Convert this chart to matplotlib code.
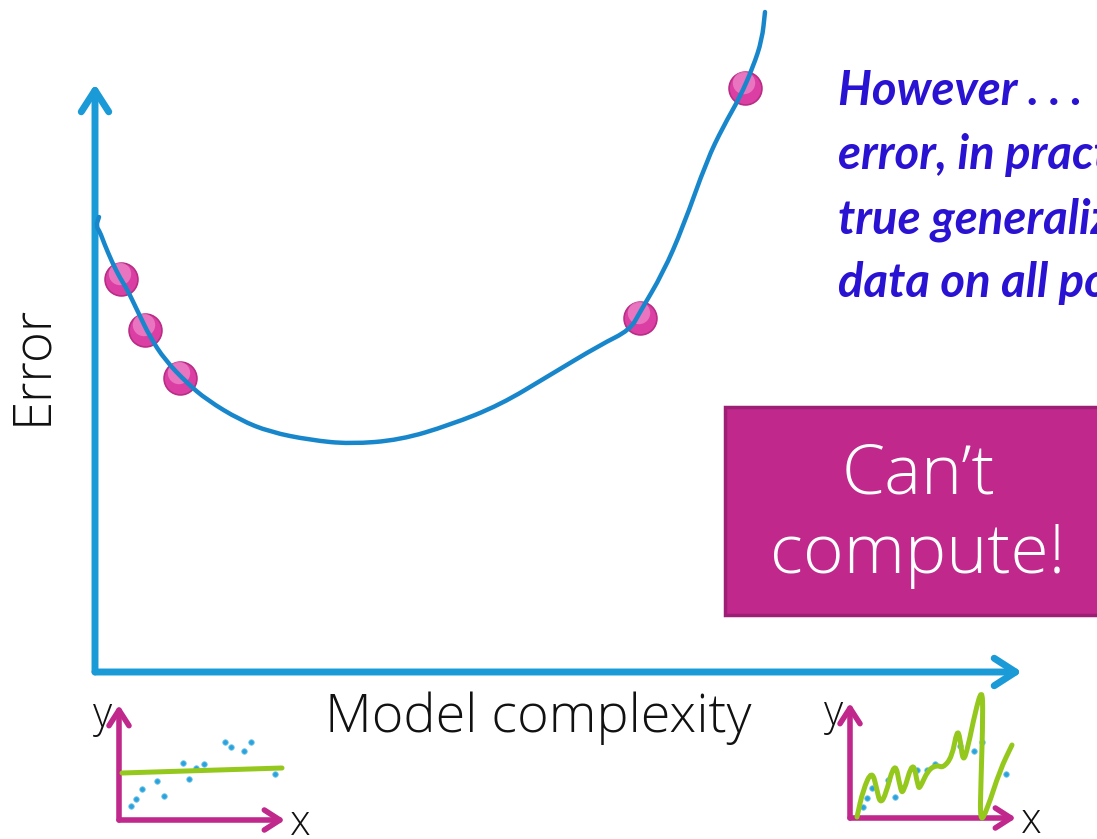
import numpy as np
import matplotlib
matplotlib.use("Agg")
import matplotlib.pyplot as plt
from matplotlib.patches import Rectangle, PathPatch
from matplotlib.path import Path

# main error curve (complexity, error) measured from the axis corner
curve_x = [4, 1, 5, 9, 17, 25, 32, 43, 55, 70, 92, 112, 145, 175, 215, 255, 305,
           355, 405, 455, 505, 535, 545, 568, 588, 612, 628, 645, 658, 667, 670]
curve_y = [455, 446, 440, 429, 410, 394, 383, 360, 335, 312, 289, 272, 252, 240,
           232, 228, 232, 247, 267, 297, 327, 342, 360, 399, 445, 512, 545, 575,
           605, 632, 660]

# sampled error values
dot_x = [26, 50, 85, 545, 650]
dot_y = [393, 342, 294, 354, 584]

# simple model inset
simple_x = [12, 17, 23, 38, 45, 64, 70, 77, 85, 106, 112, 125, 132, 156]
simple_y = [14, 21, 31, 39, 24, 57, 41, 52, 56, 78, 73, 69, 78, 46]
simple_fit_x = [3, 163]
simple_fit_y = [47, 52]

# complex model inset
complex_x = [13, 17, 22, 38, 45, 67, 77, 85, 110, 124, 132, 156]
complex_y = [11, 20, 30, 38, 21, 48, 48, 54, 72, 67, 76, 44]
complex_fit_x = [7, 13, 22, 27, 30, 35, 45, 50, 53, 63, 68, 70, 78, 87, 93, 102,
                 107, 110, 113, 118, 125, 132, 133, 131, 130, 137, 150, 162]
complex_fit_y = [1, 28, 48, 28, 15, 21, 58, 31, 23, 59, 31, 30, 48, 53, 50, 61,
                 88, 81, 55, 71, 105, 130, 105, 38, -5, 8, 48, 73]

note_lines = ["However . . .",
              "error, in practice cannot",
              "true generalization error",
              "data on all possible inputs"]

AXIS_BLUE = "#1a9ad6"
CURVE_BLUE = "#1886cb"
MAGENTA = "#c0288c"
GREEN = "#95c81c"
DOT_BLUE = "#2aa3dc"
NOTE_BLUE = "#2a12d2"
LABEL_FONT = "Open Sans"

W, H = 1097, 839
fig = plt.figure(figsize=(W / 100, H / 100), dpi=100)
fig.patch.set_facecolor("white")

ax = fig.add_axes([0, 0, 1, 1])
ax.set_xlim(-95, W - 95)
ax.set_ylim(672 - H, 672)
ax.axis("off")


def arrow_axes(a, xtip, ytip, color, lw, scale):
    style = "->,head_length=0.7,head_width=0.45"
    for tip in [(xtip, 0), (0, ytip)]:
        a.annotate("", xy=tip, xytext=(0, 0),
                   arrowprops=dict(arrowstyle=style, color=color, lw=lw,
                                   mutation_scale=scale, shrinkA=0, shrinkB=0,
                                   capstyle="round", joinstyle="round"),
                   annotation_clip=False)


def smooth_line(a, xs, ys, color, lw, zorder):
    # quadratic segments between midpoints, so hand-drawn strokes stay round
    pts = np.column_stack([xs, ys]).astype(float)
    mids = (pts[:-1] + pts[1:]) / 2
    verts = [pts[0], mids[0]]
    codes = [Path.MOVETO, Path.LINETO]
    for i in range(1, len(pts) - 1):
        verts += [pts[i], mids[i]]
        codes += [Path.CURVE3, Path.CURVE3]
    verts.append(pts[-1])
    codes.append(Path.LINETO)
    patch = PathPatch(Path(verts, codes), facecolor="none", edgecolor=color,
                      lw=lw, capstyle="round", joinstyle="round",
                      zorder=zorder, clip_on=False)
    a.add_patch(patch)


arrow_axes(ax, 927, 588, AXIS_BLUE, 5, 22)

ax.scatter(dot_x, dot_y, s=560, color="#dc3fa4", edgecolor="#b82d85",
           linewidth=1.2, zorder=3, clip_on=False)
ax.scatter(np.array(dot_x) - 1, np.array(dot_y) + 5, s=260, color="#f191cf",
           edgecolor="none", alpha=0.65, zorder=3, clip_on=False)
smooth_line(ax, curve_x, curve_y, CURVE_BLUE, 3.2, 4)

ax.text(-63, 307, "Error", rotation=90, ha="center", va="center",
        fontsize=38, family=LABEL_FONT, fontweight="light", color="#111111")
ax.text(443, -46, "Model complexity", ha="center", va="center",
        fontsize=39, family=LABEL_FONT, fontweight="light", color="#111111")

# note text runs off the right edge
for i, line in enumerate(note_lines):
    ax.text(743, 567 - 64 * i, line, ha="left", va="baseline", fontsize=34,
            family="Lato", fontweight="bold", style="italic", color=NOTE_BLUE,
            clip_on=False)

ax.add_patch(Rectangle((630, 57), 520, 208, facecolor=MAGENTA,
                       edgecolor="#9c1f75", lw=2.5, zorder=5, clip_on=False))
ax.text(823, 197, "Can\u2019t", ha="center", va="center", fontsize=50,
        family=LABEL_FONT, fontweight="light", color="white", zorder=6)
ax.text(823, 117, "compute!", ha="center", va="center", fontsize=50,
        family=LABEL_FONT, fontweight="light", color="white", zorder=6)


def inset(x0, y0, xs, ys, fx, fy):
    a = fig.add_axes([x0 / W, (H - y0) / H, 180 / W, 122 / H])
    a.set_xlim(0, 180)
    a.set_ylim(0, 122)
    a.axis("off")
    arrow_axes(a, 166, 115, MAGENTA, 4, 16)
    a.scatter(xs, ys, s=16, color=DOT_BLUE, edgecolor="#7cc8ea", lw=0.6,
              zorder=3, clip_on=False)
    smooth_line(a, fx, fy, GREEN, 3.6, 4)
    a.text(-16, 104, "y", ha="center", va="center", fontsize=30,
           family=LABEL_FONT, fontweight="light", color="#111111")
    a.text(181, -4, "x", ha="center", va="center", fontsize=30,
           family=LABEL_FONT, fontweight="light", color="#111111")
    return a


inset(119, 820, simple_x, simple_y, simple_fit_x, simple_fit_y)
inset(850, 818, complex_x, complex_y, complex_fit_x, complex_fit_y)

fig.savefig("out.png", dpi=100, facecolor="white")
